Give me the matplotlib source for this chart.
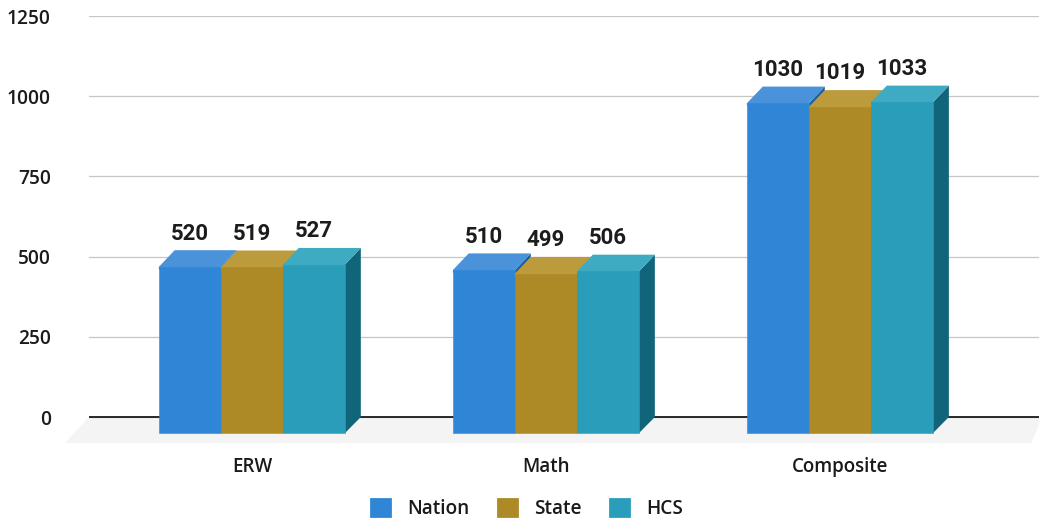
import matplotlib
matplotlib.use("Agg")
import matplotlib.pyplot as plt
from matplotlib.patches import Patch

plt.rcParams['font.family'] = ['Roboto', 'DejaVu Sans']

# values
categories = ["ERW", "Math", "Composite"]
nation = [520, 510, 1030]
state = [519, 499, 1019]
hcs = [527, 506, 1033]
yticks = [0, 250, 500, 750, 1000, 1250]

# name, values, front colour, top colour, side colour
series = [
    ("Nation", nation, "#2f86d6", "#4a93da", "#1d5f9e"),
    ("State", state, "#ad8a26", "#bb9b3c", "#7a611a"),
    ("HCS", hcs, "#2a9dbb", "#3eabc3", "#10657a"),
]

# the fake 3d look: front faces sit lower left of the real value
bar_w = 0.211
depth_x = 0.054
depth_y = 52
floor_y = -50

fig = plt.figure(figsize=(10.39, 5.29), dpi=100)
ax = fig.add_axes([89 / 1039, 86 / 529, 950 / 1039, 427 / 529])
ax.set_xlim(-0.554, 2.677)
ax.set_ylim(-81, 1250)

# grey floor under the bars
ax.fill([-0.554, 2.677, 2.677, 2.65, -0.636], [0, 0, -25, -81, -81], color="#f4f4f4", lw=0, clip_on=False, zorder=1)

ax.set_yticks(yticks)
ax.grid(axis="y", color="#c6c6c6", lw=0.9, zorder=0)
ax.axhline(0, color="#1a1a1a", lw=1.3, zorder=2)
ax.tick_params(length=0)
ax.set_xticks(range(len(categories)))
ax.set_xticklabels(categories, fontsize=13.5, color="#1a1a1a", family="Open Sans", fontweight="semibold")
ax.tick_params(axis="x", pad=10)
ax.tick_params(axis="y", pad=27.5, labelsize=13.8, labelcolor="#1a1a1a")
for lab in ax.get_yticklabels():
    lab.set_family("Open Sans")
    lab.set_fontweight("semibold")
for s in ax.spines.values():
    s.set_visible(False)

for n, (name, vals, front, top, side) in enumerate(series):
    for i, v in enumerate(vals):
        xc = i + (n - 1) * bar_w
        x0 = xc - bar_w / 2
        x1 = xc + bar_w / 2
        low = v - depth_y
        z = 3 + n
        # side face
        ax.fill([x1, x1 + depth_x, x1 + depth_x, x1], [floor_y, 0, v, low], color=side, lw=0, zorder=z)
        # top face, runs a little under the front face so no seam shows
        ax.fill([x0, x0, x0 + depth_x, x1 + depth_x, x1, x1], [low - 8, low, v, v, low, low - 8],
                color=top, lw=0, zorder=z)
        # label
        ax.annotate(str(v), (xc, v), xytext=(0, 12), textcoords="offset points", ha="center", va="center",
                    fontsize=16, fontweight="bold", color="#1c1c1c", zorder=10)
    xs = [i + (n - 1) * bar_w for i in range(len(vals))]
    # front face runs from the floor up to value - depth
    heights = [v - depth_y - floor_y for v in vals]
    ax.bar(xs, heights, width=bar_w, bottom=floor_y, color=front, edgecolor=front, lw=0.4, zorder=3 + n + 0.5)

# round corners on the legend squares come from a thick round-joined edge
handles = [Patch(facecolor=s[2], edgecolor=s[2], lw=2, joinstyle="round", label=s[0]) for s in series]
fig.legend(handles=handles, loc="center", bbox_to_anchor=(527 / 1039, 1 - 509 / 529), ncol=3, frameon=False,
           prop={"family": "Open Sans", "size": 13.7, "weight": "semibold"}, handlelength=1.0, handleheight=1.0,
           handletextpad=0.9, columnspacing=1.5, labelcolor="#1a1a1a")

fig.savefig("out.png", dpi=100)
